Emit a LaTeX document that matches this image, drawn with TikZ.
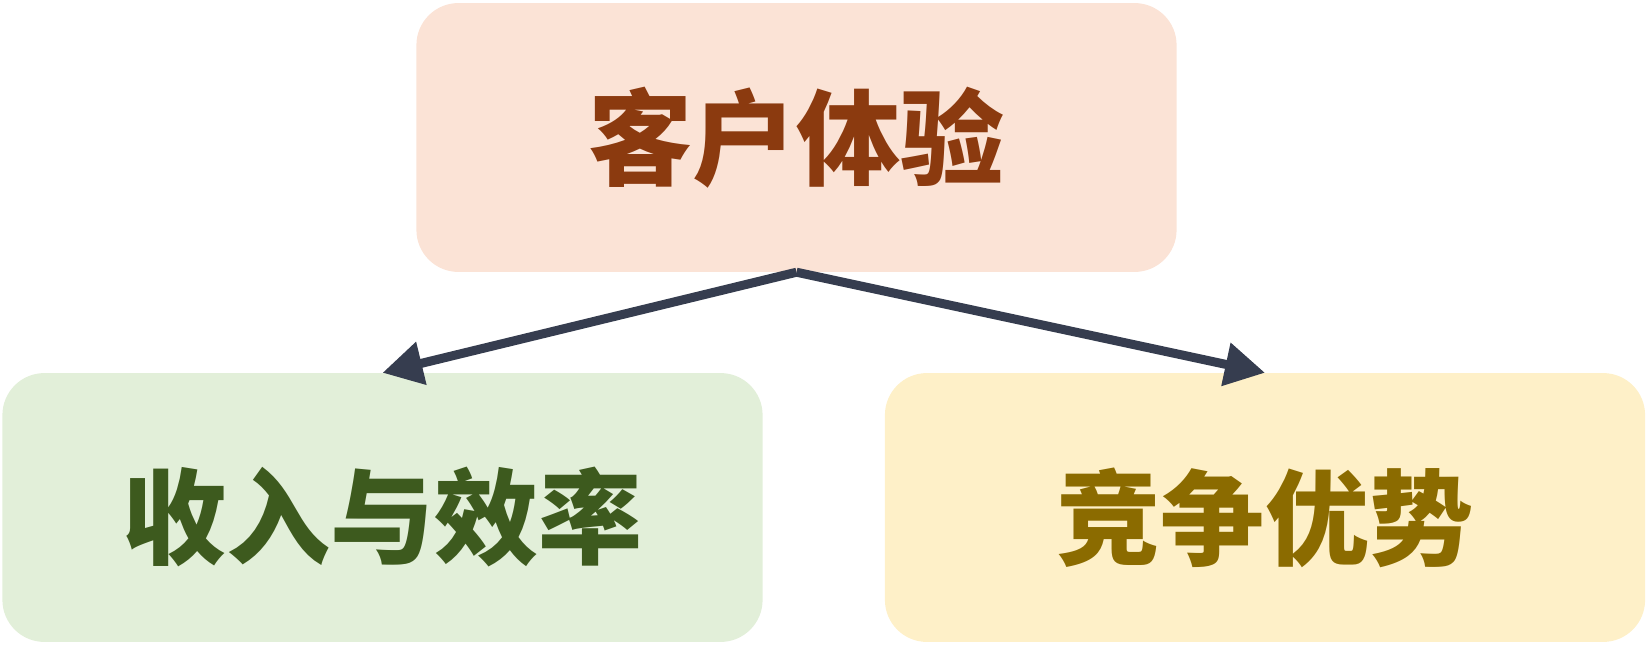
\documentclass[tikz,border=0pt]{standalone}
\usepackage{fontspec}
\newfontfamily\cjk{Noto Sans CJK SC}
\usetikzlibrary{arrows.meta}
\definecolor{peach}{HTML}{FBE3D6}
\definecolor{mint}{HTML}{E2EFD9}
\definecolor{cream}{HTML}{FEF0C8}
\definecolor{rust}{HTML}{8B3A0F}
\definecolor{moss}{HTML}{3D5A1E}
\definecolor{ochre}{HTML}{8B6B00}
\definecolor{slate}{HTML}{363D4F}
\tikzset{
	card/.style = {rectangle, rounded corners = 1.05cm, inner sep = 0, minimum width = 19cm, minimum height = 6.72cm},
	tag/.style = {inner sep = 0, font = \cjk\bfseries\fontsize{74}{80}\selectfont},
	link/.style = {draw = slate, line width = 6.4pt, -{Triangle[length = 1cm, width = 1.05cm]}}
}
\begin{document}
\begin{tikzpicture}[x = 0.025cm, y = -0.025cm]
			\useasboundingbox (0,0) rectangle (1648,656);
			\node[card, fill = peach, label = {[tag, text = rust]center:客户体验}] (exp) at (796.5,137.5) {};
			\node[card, fill = mint, label = {[tag, text = moss, yshift = -0.25cm]center:收入与效率}] (rev) at (382.5,507.5) {};
			\node[card, fill = cream, label = {[tag, text = ochre, yshift = -0.25cm]center:竞争优势}] (adv) at (1265,507.5) {};
			\draw[link] (exp.south) -- (rev.north);
			\draw[link] (exp.south) -- (adv.north);
		\end{tikzpicture}
\end{document}
